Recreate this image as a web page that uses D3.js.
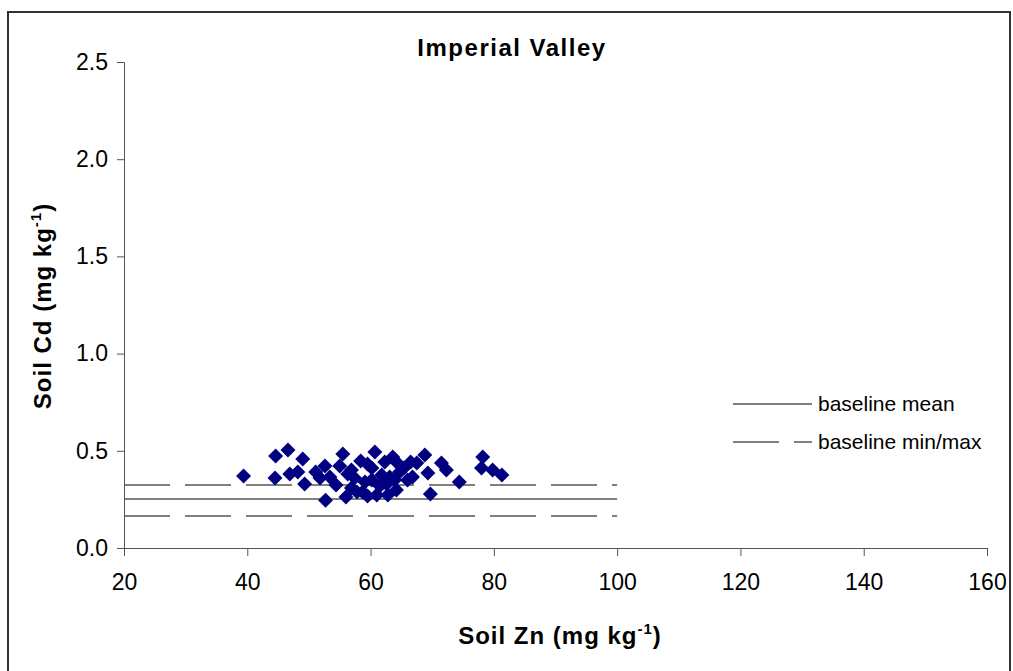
<!DOCTYPE html>
<html>
<head>
<meta charset="utf-8">
<script src="https://cdn.jsdelivr.net/npm/d3@7"></script>
<style>
  body { margin: 0; background: #fff; }
  svg text { font-family: "Liberation Sans", Arial, sans-serif; }
</style>
</head>
<body>
<div id="chart"></div>
<script>
const width = 1013;
const height = 671;

// data
const soilZn = [39.4, 44.6, 46.6, 49.0, 44.5, 46.9, 48.2, 49.3, 51.1, 52.6, 53.4, 52.7, 55.5, 55.0, 56.3, 54.4,
  56.0, 57.4, 59.1, 58.4, 60.7, 59.5, 62.3, 63.6, 58.7, 61.0, 57.8, 59.5, 62.6, 63.1, 61.8, 64.2, 64.7, 64.2,
  66.5, 67.5, 66.8, 68.8, 69.3, 71.5, 72.3, 74.4, 69.7, 78.2, 78.0, 79.8, 81.3, 56.9, 60.2, 61.5, 63.9, 65.4,
  66.0, 56.9, 51.8, 60.2, 62.8];
const soilCd = [0.37, 0.473, 0.504, 0.458, 0.36, 0.381, 0.391, 0.329, 0.391, 0.422, 0.365, 0.245, 0.484, 0.422,
  0.381, 0.324, 0.262, 0.36, 0.34, 0.448, 0.494, 0.432, 0.442, 0.468, 0.288, 0.273, 0.288, 0.267, 0.329, 0.365,
  0.376, 0.442, 0.391, 0.298, 0.442, 0.437, 0.365, 0.478, 0.386, 0.437, 0.401, 0.34, 0.278, 0.468, 0.412, 0.401,
  0.376, 0.401, 0.412, 0.319, 0.35, 0.412, 0.35, 0.309, 0.36, 0.35, 0.273];

const baselineMean = 0.252;
const baselineMin = 0.165;
const baselineMax = 0.324;
const baselineRange = [20, 100];

const xTicks = [20, 40, 60, 80, 100, 120, 140, 160];
const yTicks = [0, 0.5, 1.0, 1.5, 2.0, 2.5];

const margin = { left: 124, right: 25, top: 62, bottom: 123 };

const svg = d3.select("#chart").append("svg")
  .attr("width", width)
  .attr("height", height);

// outer frame
svg.append("rect")
  .attr("x", 8).attr("y", 12)
  .attr("width", 1002).attr("height", 680)
  .attr("fill", "none")
  .attr("stroke", "#333")
  .attr("stroke-width", 2);

const x = d3.scaleLinear().domain([20, 160]).range([margin.left, width - margin.right - 1]);
const y = d3.scaleLinear().domain([0, 2.5]).range([height - margin.bottom, margin.top]);

// baseline lines
const lineColor = "#808080";
[[baselineMax, "46,15"], [baselineMean, null], [baselineMin, "46,15"]].forEach(([v, dash]) => {
  svg.append("line")
    .attr("x1", x(baselineRange[0])).attr("x2", x(baselineRange[1]))
    .attr("y1", y(v)).attr("y2", y(v))
    .attr("stroke", lineColor)
    .attr("stroke-width", 2)
    .attr("stroke-dasharray", dash);
});

// axes
const xAxis = svg.append("g")
  .attr("transform", `translate(0,${y(0)})`)
  .call(d3.axisBottom(x).tickValues(xTicks).tickSize(8).tickPadding(18).tickFormat(d3.format("d")));
const yAxis = svg.append("g")
  .attr("transform", `translate(${x(20)},0)`)
  .call(d3.axisLeft(y).tickValues(yTicks).tickSize(7).tickPadding(9).tickFormat(d3.format(".1f")));

[xAxis, yAxis].forEach(g => {
  g.select(".domain").attr("stroke", "#555");
  g.selectAll(".tick line").attr("stroke", "#555");
  g.selectAll(".tick text")
    .attr("fill", "#000")
    .style("font-size", "23px")
    .style("font-family", "'Liberation Sans', Arial, sans-serif");
});

// points
const diamond = "M0,-7.5L7.5,0L0,7.5L-7.5,0Z";
svg.append("g").selectAll("path")
  .data(soilZn.map((d, i) => [d, soilCd[i]]))
  .join("path")
  .attr("d", diamond)
  .attr("transform", d => `translate(${x(d[0])},${y(d[1])})`)
  .attr("fill", "#000080");

// title
svg.append("text")
  .attr("x", 512).attr("y", 56)
  .attr("text-anchor", "middle")
  .style("font-size", "24px")
  .style("font-weight", "bold")
  .style("letter-spacing", "1.5px")
  .text("Imperial Valley");

// axis titles
const xLabel = svg.append("text")
  .attr("x", 560).attr("y", 644)
  .attr("text-anchor", "middle")
  .style("font-size", "24px")
  .style("font-weight", "bold")
  .style("letter-spacing", "1px");
xLabel.append("tspan").text("Soil Zn (mg kg");
xLabel.append("tspan").attr("dy", -10).style("font-size", "15px").text("-1");
xLabel.append("tspan").attr("dy", 10).text(")");

const yLabel = svg.append("text")
  .attr("transform", "translate(51,306) rotate(-90)")
  .attr("text-anchor", "middle")
  .style("font-size", "24px")
  .style("font-weight", "bold")
  .style("letter-spacing", "1px");
yLabel.append("tspan").text("Soil Cd (mg kg");
yLabel.append("tspan").attr("dy", -10).style("font-size", "15px").text("-1");
yLabel.append("tspan").attr("dy", 10).text(")");

// legend
const legend = svg.append("g");
legend.append("line")
  .attr("x1", 733).attr("x2", 812).attr("y1", 404).attr("y2", 404)
  .attr("stroke", lineColor).attr("stroke-width", 2);
legend.append("line")
  .attr("x1", 733).attr("x2", 812).attr("y1", 442).attr("y2", 442)
  .attr("stroke", lineColor).attr("stroke-width", 2)
  .attr("stroke-dasharray", "46,15");
legend.append("text").attr("x", 818).attr("y", 411)
  .style("font-size", "21px").text("baseline mean");
legend.append("text").attr("x", 818).attr("y", 449)
  .style("font-size", "21px").text("baseline min/max");
</script>
</body>
</html>
